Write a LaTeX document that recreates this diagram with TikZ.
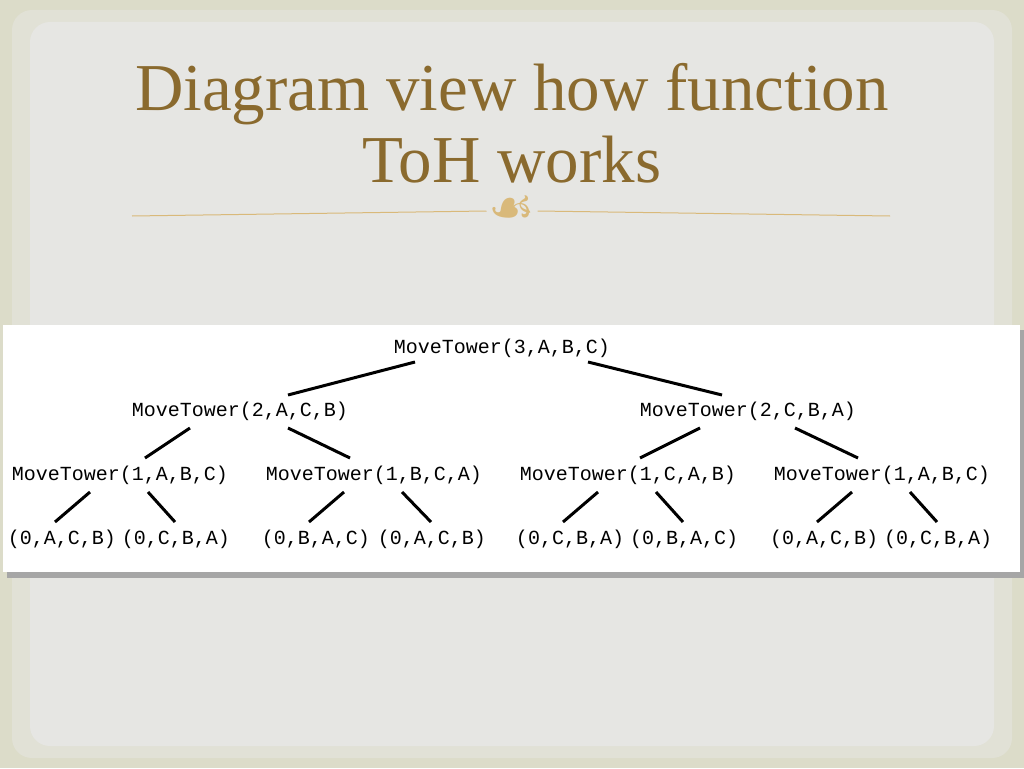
\documentclass[tikz,border=0pt]{standalone}
\usepackage{fontspec}
\setmainfont{Liberation Serif}
\newfontfamily\monof{Liberation Mono}
\newfontfamily\symf{DejaVu Sans}
\usetikzlibrary{calc}
\definecolor{titlec}{HTML}{8A6A2E}
\definecolor{bgin}{HTML}{E6E6E3}
\definecolor{bgout}{HTML}{DCDCC9}
\definecolor{rulec}{HTML}{D9B97A}
\begin{document}
\begin{tikzpicture}[x=1pt,y=-1pt,
  call/.style={font=\monof\fontsize{20}{20}\selectfont,inner sep=1pt},
  edge/.style={line width=3pt,black}]
\useasboundingbox (0,0) rectangle (1024,768);
\fill[bgout] (0,0) rectangle (1024,768);
\fill[bgin!50!bgout,rounded corners=20pt] (12,10) rectangle (1012,758);
\fill[bgin,rounded corners=20pt] (30,22) rectangle (994,746);
% title
\node[font=\fontsize{67}{72}\selectfont,text=titlec,align=center] (title) at (512,123) {Diagram view how function\\ToH works};
\coordinate (rl) at (132,216);
\coordinate (rr) at (890,216);
\node[font=\symf\fontsize{52}{52}\selectfont,text=rulec,fill=bgin,inner sep=2pt] (orn) at (512,211) {☙};
\draw[rulec,line width=1pt] (rl) -- (orn.west);
\draw[rulec,line width=1pt] (orn.east) -- (rr);
% panel
\fill[black!35] (7,330) rectangle (1024,578);
\fill[white] (3,325) rectangle (1020,572);
% nodes
\node[call] (r) at (502,348) {MoveTower(3,A,B,C)};
\node[call] (a) at (240,411) {MoveTower(2,A,C,B)};
\node[call] (b) at (748,411) {MoveTower(2,C,B,A)};
\node[call] (a1) at (120,475) {MoveTower(1,A,B,C)};
\node[call] (a2) at (374,475) {MoveTower(1,B,C,A)};
\node[call] (b1) at (628,475) {MoveTower(1,C,A,B)};
\node[call] (b2) at (882,475) {MoveTower(1,A,B,C)};
\node[call] (l1) at (62,539) {(0,A,C,B)};
\node[call] (l2) at (176,539) {(0,C,B,A)};
\node[call] (l3) at (316,539) {(0,B,A,C)};
\node[call] (l4) at (432,539) {(0,A,C,B)};
\node[call] (l5) at (570,539) {(0,C,B,A)};
\node[call] (l6) at (684,539) {(0,B,A,C)};
\node[call] (l7) at (824,539) {(0,A,C,B)};
\node[call] (l8) at (938,539) {(0,C,B,A)};
% edges
\draw[edge] ($(r)+(-87,14)$) -- ($(a)+(48,-16)$);
\draw[edge] ($(r)+(86,14)$) -- ($(b)+(-26,-16)$);
\draw[edge] ($(a)+(-50,17)$) -- ($(a1)+(25,-17)$);
\draw[edge] ($(a)+(48,17)$) -- ($(a2)+(-24,-17)$);
\draw[edge] ($(b)+(-48,17)$) -- ($(b1)+(12,-17)$);
\draw[edge] ($(b)+(47,17)$) -- ($(b2)+(-24,-17)$);
\foreach \p/\u/\v in {a1/l1/l2,a2/l3/l4,b1/l5/l6,b2/l7/l8}{
  \draw[edge] ($(\p)+(-30,17)$) -- ($(\u)+(-7,-17)$);
  \draw[edge] ($(\p)+(28,17)$) -- ($(\v)+(-1,-17)$);
}
\end{tikzpicture}
\end{document}
